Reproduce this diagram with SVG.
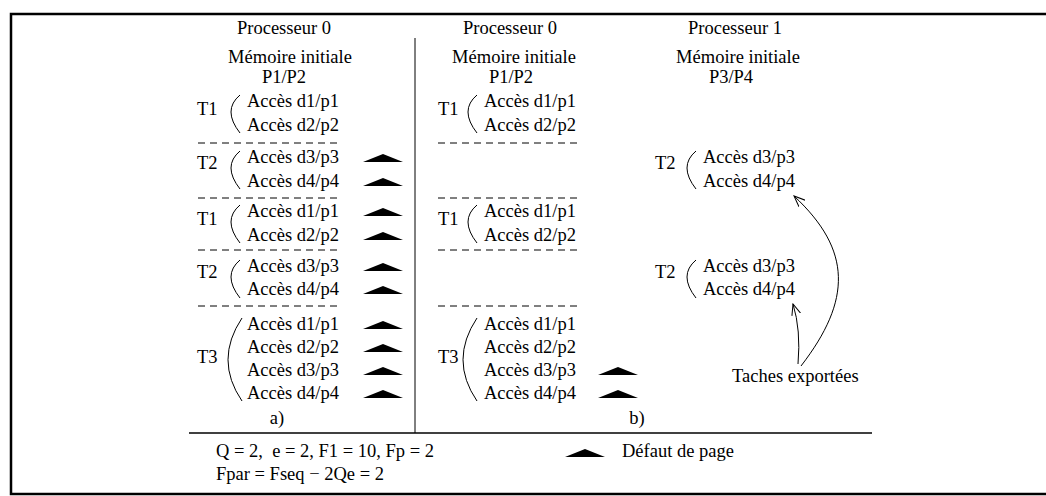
<svg xmlns="http://www.w3.org/2000/svg" width="1046" height="496" viewBox="0 0 1046 496">
<style>
text{font-family:"Liberation Serif","Times New Roman",serif;font-size:18.5px;fill:#000}
.m{text-anchor:middle}
.dash{stroke:#000;stroke-width:1;stroke-dasharray:7,5;fill:none}
.br{stroke:#000;stroke-width:1;fill:none}
.ln{stroke:#000;fill:none}
</style>
<defs>
<path id="tri" d="M-20,0 L0,-8 L20,0 Z" fill="#000"/>
<marker id="ah" markerUnits="userSpaceOnUse" markerWidth="12" markerHeight="10" viewBox="0 0 12 10" refX="11" refY="5" orient="auto">
<path d="M0,0.5 L11,5 L0,9.5" fill="none" stroke="#000" stroke-width="1"/>
</marker>
</defs>
<rect x="11" y="14" width="1045" height="480" fill="none" stroke="#000" stroke-width="2.5"/>
<g id="frame-lines">
<line class="ln" x1="415" y1="38" x2="415" y2="433" stroke-width="1"/>
<line class="ln" x1="189" y1="433" x2="872" y2="433" stroke-width="1.3"/>
</g>
<g id="col-a">
<text class="m" x="284" y="34">Processeur 0</text>
<text class="m" x="290" y="63">Mémoire initiale</text>
<text class="m" x="284" y="83">P1/P2</text>
<text x="197" y="115">T1</text>
<path class="br" d="M240,95 Q222,110 240,133"/>
<text x="247" y="107">Accès d1/p1</text>
<text x="247" y="131">Accès d2/p2</text>
<line class="dash" x1="198" y1="143" x2="340" y2="143"/>
<text x="197" y="169">T2</text>
<path class="br" d="M240,151 Q222,166 240,189"/>
<text x="247" y="163">Accès d3/p3</text>
<text x="247" y="187">Accès d4/p4</text>
<use href="#tri" x="383" y="162"/>
<use href="#tri" x="383" y="186"/>
<line class="dash" x1="198" y1="198" x2="340" y2="198"/>
<text x="197" y="225">T1</text>
<path class="br" d="M240,205 Q222,220 240,243"/>
<text x="247" y="217">Accès d1/p1</text>
<text x="247" y="241">Accès d2/p2</text>
<use href="#tri" x="383" y="216"/>
<use href="#tri" x="383" y="240"/>
<line class="dash" x1="198" y1="250" x2="340" y2="250"/>
<text x="197" y="278">T2</text>
<path class="br" d="M240,260 Q222,275 240,298"/>
<text x="247" y="272">Accès d3/p3</text>
<text x="247" y="295">Accès d4/p4</text>
<use href="#tri" x="383" y="271"/>
<use href="#tri" x="383" y="294"/>
<line class="dash" x1="198" y1="306" x2="340" y2="306"/>
<text x="197" y="363">T3</text>
<path class="br" d="M242,318 Q214,360 242,401"/>
<text x="247" y="330">Accès d1/p1</text>
<text x="247" y="353">Accès d2/p2</text>
<text x="247" y="376">Accès d3/p3</text>
<text x="247" y="399">Accès d4/p4</text>
<use href="#tri" x="383" y="329"/>
<use href="#tri" x="383" y="352"/>
<use href="#tri" x="383" y="375"/>
<use href="#tri" x="383" y="398"/>
<text class="m" x="277" y="424">a)</text>
</g>
<g id="col-b">
<text class="m" x="510" y="34">Processeur 0</text>
<text class="m" x="514" y="63">Mémoire initiale</text>
<text class="m" x="511" y="83">P1/P2</text>
<text x="438" y="115">T1</text>
<path class="br" d="M477,95 Q459,110 477,133"/>
<text x="484" y="107">Accès d1/p1</text>
<text x="484" y="131">Accès d2/p2</text>
<line class="dash" x1="438" y1="143" x2="580" y2="143"/>
<line class="dash" x1="438" y1="198" x2="580" y2="198"/>
<text x="438" y="225">T1</text>
<path class="br" d="M477,205 Q459,220 477,243"/>
<text x="484" y="217">Accès d1/p1</text>
<text x="484" y="241">Accès d2/p2</text>
<line class="dash" x1="438" y1="250" x2="580" y2="250"/>
<line class="dash" x1="438" y1="306" x2="580" y2="306"/>
<text x="438" y="363">T3</text>
<path class="br" d="M477,318 Q449,360 477,401"/>
<text x="484" y="330">Accès d1/p1</text>
<text x="484" y="353">Accès d2/p2</text>
<text x="484" y="376">Accès d3/p3</text>
<text x="484" y="399">Accès d4/p4</text>
<use href="#tri" x="618" y="375"/>
<use href="#tri" x="618" y="398"/>
<text class="m" x="637" y="424">b)</text>
</g>
<g id="col-c">
<text class="m" x="735" y="34">Processeur 1</text>
<text class="m" x="738" y="63">Mémoire initiale</text>
<text class="m" x="731" y="83">P3/P4</text>
<text x="655" y="169">T2</text>
<path class="br" d="M696,151 Q678,166 696,189"/>
<text x="703" y="163">Accès d3/p3</text>
<text x="703" y="187">Accès d4/p4</text>
<text x="655" y="278">T2</text>
<path class="br" d="M696,260 Q678,275 696,298"/>
<text x="703" y="272">Accès d3/p3</text>
<text x="703" y="295">Accès d4/p4</text>
<text x="732" y="382">Taches exportées</text>
</g>
<g id="connectors">
<path class="ln" stroke-width="1" d="M798,364 Q801,330 793,304" marker-end="url(#ah)"/>
<path class="ln" stroke-width="1" d="M801,366 C852,300 852,250 794,196" marker-end="url(#ah)"/>
</g>
<g id="legend">
<text x="216" y="457">Q = 2,&#160; e = 2, F1 = 10, Fp = 2</text>
<text x="216" y="480">Fpar = Fseq − 2Qe = 2</text>
<use href="#tri" x="585" y="457"/>
<text x="622" y="457">Défaut de page</text>
</g>
</svg>
